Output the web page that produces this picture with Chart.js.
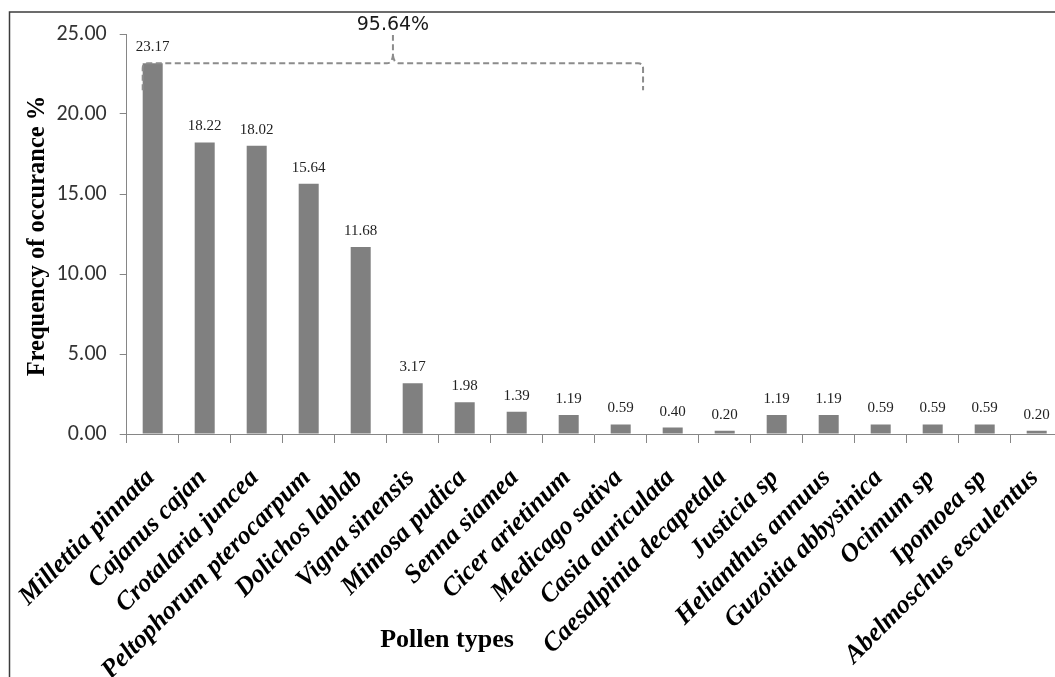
<!DOCTYPE html>
<html>
<head>
<meta charset="utf-8">
<script src="https://cdn.jsdelivr.net/npm/chart.js@4.4.0/dist/chart.umd.min.js"></script>
<style>
  html, body { margin: 0; padding: 0; background: #fff; overflow: hidden; }
  #wrap { width: 1075px; height: 677px; position: relative; }
</style>
</head>
<body>
<div id="wrap"><canvas id="chart" width="1075" height="677"></canvas></div>
<script>
// Pollen types and their frequency of occurrence (%)
const pollenTypes = [
  'Millettia pinnata', 'Cajanus cajan', 'Crotalaria juncea', 'Peltophorum pterocarpum',
  'Dolichos lablab', 'Vigna sinensis', 'Mimosa pudica', 'Senna siamea', 'Cicer arietinum',
  'Medicago sativa', 'Casia auriculata', 'Caesalpinia decapetala', 'Justicia sp',
  'Helianthus annuus', 'Guzoitia abbysinica', 'Ocimum sp', 'Ipomoea sp', 'Abelmoschus esculentus'
];
const frequency = [23.17, 18.22, 18.02, 15.64, 11.68, 3.17, 1.98, 1.39, 1.19, 0.59, 0.40, 0.20, 1.19, 1.19, 0.59, 0.59, 0.59, 0.20];
const yTickValues = [0, 5, 10, 15, 20, 25];
const groupShareLabel = '95.64%';
const yTitle = 'Frequency of occurance %';
const xTitle = 'Pollen types';

const SERIF = "'Liberation Serif', 'Times New Roman', serif";
const SANS = "'DejaVu Sans', sans-serif";
const TICK_SANS = "Carlito, Calibri, 'Liberation Sans', sans-serif";
const AXIS_GREY = '#868686';

// White page with a thin frame along the top and left edges
const framePlugin = {
  id: 'frame',
  beforeDraw(chart) {
    const ctx = chart.ctx;
    ctx.save();
    ctx.fillStyle = '#fff';
    ctx.fillRect(0, 0, chart.width, chart.height);
    ctx.strokeStyle = '#3c3c3c';
    ctx.lineWidth = 1.5;
    ctx.beginPath();
    ctx.moveTo(9.5, chart.height);
    ctx.lineTo(9.5, 12);
    ctx.lineTo(chart.width, 12);
    ctx.stroke();
    ctx.restore();
  }
};

// Value printed above every bar
const valueLabelPlugin = {
  id: 'valueLabels',
  afterDatasetsDraw(chart) {
    const ctx = chart.ctx;
    const meta = chart.getDatasetMeta(0);
    ctx.save();
    ctx.font = `15px ${SERIF}`;
    ctx.fillStyle = '#222';
    ctx.textAlign = 'center';
    ctx.textBaseline = 'middle';
    meta.data.forEach((bar, i) => {
      ctx.fillText(frequency[i].toFixed(2), bar.x, bar.y - 16);
    });
    ctx.restore();
  }
};

// Axis titles
const axisTitlePlugin = {
  id: 'axisTitles',
  afterDraw(chart) {
    const ctx = chart.ctx;
    const area = chart.chartArea;
    ctx.save();
    ctx.fillStyle = '#000';
    ctx.font = `bold 24.5px ${SERIF}`;
    ctx.textAlign = 'center';
    ctx.textBaseline = 'middle';
    ctx.translate(38, (area.top + area.bottom) / 2 + 2);
    ctx.rotate(-Math.PI / 2);
    ctx.fillText(yTitle, 0, 0);
    ctx.restore();

    ctx.save();
    ctx.fillStyle = '#000';
    ctx.font = `bold 26px ${SERIF}`;
    ctx.textAlign = 'center';
    ctx.textBaseline = 'alphabetic';
    ctx.fillText(xTitle, 447, 647);
    ctx.restore();
  }
};

// Dashed brace grouping the leading pollen types, with their combined share
const bracePlugin = {
  id: 'brace',
  afterDraw(chart) {
    const ctx = chart.ctx;
    const xs = chart.scales.x;
    const ys = chart.scales.y;
    const first = chart.getDatasetMeta(0).data[0];
    const xL = first.x - first.width / 2;
    const xP = xs.getPixelForValue(4.62);
    const xR = xs.getPixelForValue(9.43);
    const yH = ys.getPixelForValue(frequency[0]);
    const yEnd = yH + 27;
    const yTop = ys.getPixelForValue(25) + 1;
    const r = 5;

    ctx.save();
    ctx.strokeStyle = '#8c8c8c';
    ctx.lineWidth = 2;
    ctx.setLineDash([6, 3.5]);
    ctx.beginPath();
    ctx.moveTo(xL, yEnd);
    ctx.lineTo(xL, yH + r);
    ctx.quadraticCurveTo(xL, yH, xL + r, yH);
    ctx.lineTo(xP - 6, yH);
    ctx.quadraticCurveTo(xP - 1, yH, xP, yH - 8);
    ctx.lineTo(xP, yTop);
    ctx.moveTo(xP, yH - 8);
    ctx.quadraticCurveTo(xP + 1, yH, xP + 6, yH);
    ctx.lineTo(xR - r, yH);
    ctx.quadraticCurveTo(xR, yH, xR, yH + r);
    ctx.lineTo(xR, yEnd);
    ctx.stroke();
    ctx.restore();

    ctx.save();
    ctx.fillStyle = '#1a1a1a';
    ctx.font = `19px ${SANS}`;
    ctx.textAlign = 'center';
    ctx.textBaseline = 'middle';
    ctx.fillText(groupShareLabel, xP, yTop - 10);
    ctx.restore();
  }
};

new Chart(document.getElementById('chart'), {
  type: 'bar',
  data: {
    labels: pollenTypes,
    datasets: [{
      data: frequency,
      backgroundColor: '#808080',
      borderWidth: 0,
      barPercentage: 0.385,
      categoryPercentage: 1
    }]
  },
  options: {
    responsive: false,
    animation: false,
    layout: { padding: { left: 0, top: 34, right: 12.3, bottom: 0 } },
    plugins: { legend: { display: false }, tooltip: { enabled: false } },
    scales: {
      x: {
        offset: true,
        grid: {
          offset: true,
          drawOnChartArea: false,
          drawTicks: true,
          tickLength: 9,
          color: AXIS_GREY
        },
        border: { color: AXIS_GREY, width: 1 },
        ticks: {
          autoSkip: false,
          minRotation: 45,
          maxRotation: 45,
          padding: 20,
          labelOffset: -2,
          color: '#000',
          font: { family: SERIF, size: 26, style: 'italic', weight: 'bold' }
        },
        afterFit(scale) {
          scale.height = 677 - 434;
          scale.paddingLeft = 0;
          scale.paddingRight = 0;
        }
      },
      y: {
        min: 0,
        max: 25,
        afterBuildTicks(scale) {
          scale.ticks = yTickValues.map(v => ({ value: v }));
        },
        grid: {
          drawOnChartArea: false,
          drawTicks: true,
          tickLength: 7,
          color: AXIS_GREY
        },
        border: { color: AXIS_GREY, width: 1 },
        ticks: {
          padding: 13,
          color: '#333',
          font: { family: TICK_SANS, size: 22 },
          callback: v => Number(v).toFixed(2)
        },
        afterFit(scale) {
          scale.width = 126.7;
        }
      }
    }
  },
  plugins: [framePlugin, valueLabelPlugin, axisTitlePlugin, bracePlugin]
});
</script>
</body>
</html>
